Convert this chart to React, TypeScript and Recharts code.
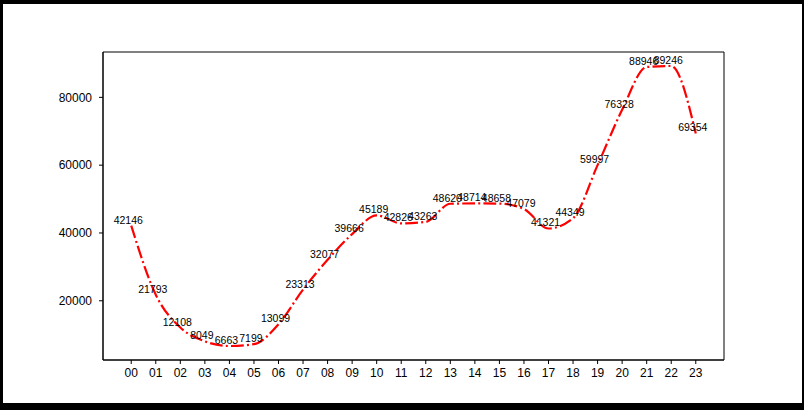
import { LineChart, Line, XAxis, YAxis, LabelList, ReferenceArea } from 'recharts'

const hours = ['00', '01', '02', '03', '04', '05', '06', '07', '08', '09', '10', '11',
  '12', '13', '14', '15', '16', '17', '18', '19', '20', '21', '22', '23']
const counts = [42146, 21793, 12108, 8049, 6663, 7199, 13099, 23313, 32077, 39666, 45189, 42826,
  43263, 48620, 48714, 48658, 47079, 41321, 44349, 59997, 76328, 88946, 89246, 69354]
const yTicks = [20000, 40000, 60000, 80000]

const data = hours.map((h, i) => ({ x: i, hour: h, count: counts[i] }))

const FONT = '"Liberation Sans", Arial, sans-serif'
const X_DOMAIN = [-1.15, 24.15]
const Y_DOMAIN = [2534, 93375]

function ValueLabel(props: any) {
  const { x, y, value } = props
  return (
    <text x={x - 3} y={y - 2} textAnchor="middle" fontSize={10.5} fontFamily={FONT} fill="#000">
      {value}
    </text>
  )
}

export default function App() {
  return (
    <div style={{ position: 'absolute', left: 0, top: 0, width: 804, height: 410, background: '#000' }}>
      <div style={{ position: 'absolute', left: 3, top: 4, width: 799, height: 399, background: '#fff' }} />
      <div style={{ position: 'absolute', left: 0, top: 0 }}>
        <LineChart width={804} height={410} data={data} margin={{ top: 52, right: 80, bottom: 20, left: 43 }}>
          <XAxis
            dataKey="x"
            type="number"
            domain={X_DOMAIN}
            ticks={hours.map((_, i) => i)}
            interval={0}
            tickFormatter={(v: number) => hours[v]}
            height={30}
            tickSize={4}
            tickMargin={4}
            stroke="#000"
            tick={{ fill: '#000', fontSize: 12, fontFamily: FONT }}
          />
          <YAxis
            type="number"
            domain={Y_DOMAIN}
            ticks={yTicks}
            interval={0}
            width={60}
            tickSize={4}
            tickMargin={7}
            stroke="#000"
            tick={{ fill: '#000', fontSize: 12, fontFamily: FONT }}
          />
          <ReferenceArea
            x1={X_DOMAIN[0]}
            x2={X_DOMAIN[1]}
            y1={Y_DOMAIN[0]}
            y2={Y_DOMAIN[1]}
            fill="none"
            fillOpacity={0}
            stroke="#000"
            strokeWidth={1}
          />
          <Line
            type="monotone"
            dataKey="count"
            stroke="red"
            strokeWidth={2.2}
            strokeDasharray="12.8 3.2 2 3.2"
            dot={false}
            isAnimationActive={false}
          >
            <LabelList dataKey="count" content={ValueLabel} />
          </Line>
        </LineChart>
      </div>
    </div>
  )
}
